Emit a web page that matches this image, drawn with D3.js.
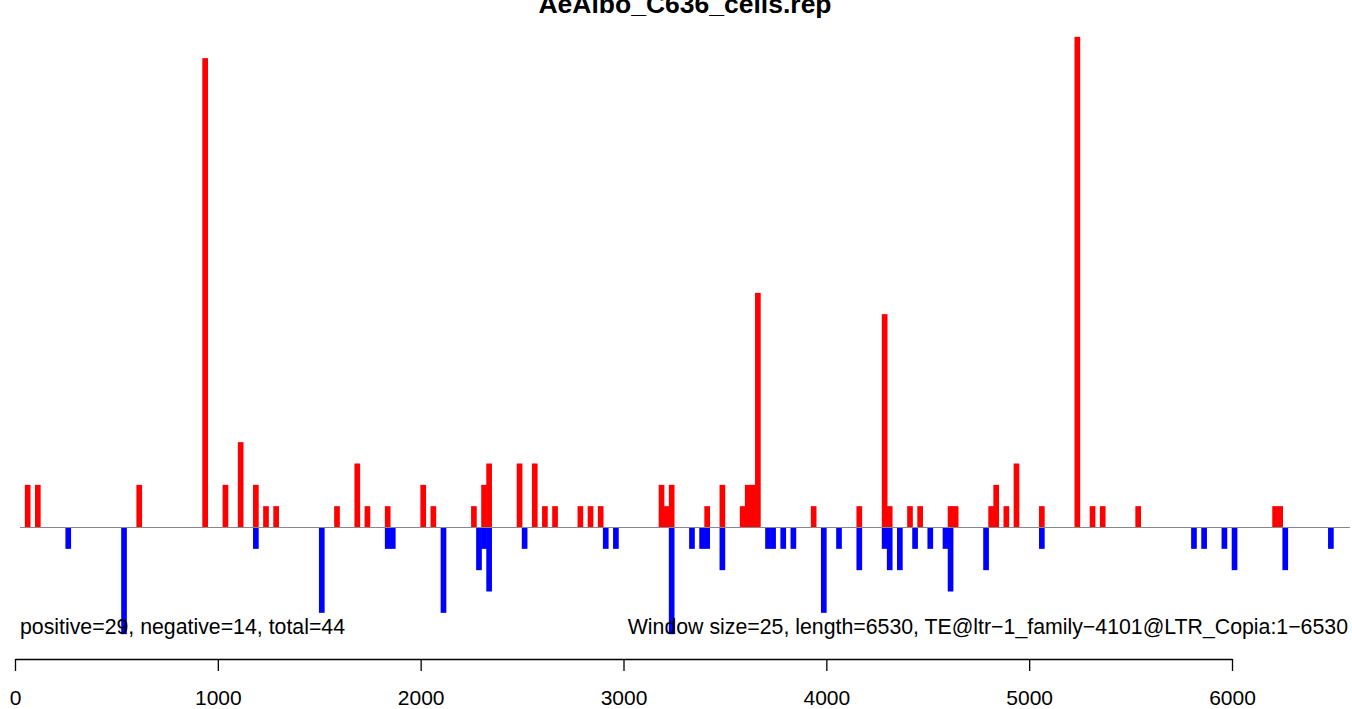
<!DOCTYPE html>
<html>
<head>
<meta charset="utf-8">
<script src="https://cdn.jsdelivr.net/npm/d3@7"></script>
<style>
  html, body { margin: 0; padding: 0; background: #fff; }
  svg { display: block; }
  text { font-family: "Liberation Sans", Arial, Helvetica, sans-serif; fill: #000; }
</style>
</head>
<body>
<svg id="chart" width="1352" height="709"></svg>
<script>
const chartTitle = "AeAlbo_C636_cells.rep";
const windowSize = 25;
const seqLength = 6530;
const xTicks = [0, 1000, 2000, 3000, 4000, 5000, 6000];
const summaryLeft = "positive=29, negative=14, total=44";
const summaryRight = "Window size=25, length=6530, TE@ltr\u22121_family\u22124101@LTR_Copia:1\u22126530";

// positive-strand windows (start position) and counts
const posStarts = [50, 100, 600, 925, 1025, 1100, 1175, 1225, 1275, 1575, 1675, 1725, 1825, 2000, 2050,
  2250, 2300, 2325, 2475, 2550, 2600, 2650, 2775, 2825, 2875, 3175, 3200, 3225, 3400, 3475,
  3575, 3600, 3625, 3650, 3925, 4150, 4275, 4300, 4400, 4450, 4600, 4625, 4800, 4825, 4875,
  4925, 5050, 5225, 5300, 5350, 5525, 6200, 6225];
const posValues = [2, 2, 2, 22, 2, 4, 2, 1, 1, 1, 3, 1, 1, 2, 1,
  1, 2, 3, 3, 3, 1, 1, 1, 1, 1, 2, 1, 2, 1, 2,
  1, 2, 2, 11, 1, 1, 10, 1, 1, 1, 1, 1, 1, 2, 1,
  3, 1, 23, 1, 1, 1, 1, 1];

// negative-strand windows (start position) and counts
const negStarts = [250, 525, 1175, 1500, 1825, 1850, 2100, 2275, 2300, 2325, 2500, 2900, 2950, 3225,
  3325, 3375, 3400, 3475, 3700, 3725, 3775, 3825, 3975, 4050, 4150, 4275, 4300, 4350,
  4425, 4500, 4575, 4600, 4775, 5050, 5800, 5850, 5950, 6000, 6250, 6475];
const negValues = [1, 5, 1, 4, 1, 1, 4, 2, 1, 3, 1, 1, 1, 5,
  1, 1, 1, 2, 1, 1, 1, 1, 4, 1, 2, 1, 2, 2,
  1, 1, 1, 3, 2, 1, 1, 1, 1, 2, 2, 1];

const svg = d3.select("#chart");

const x = d3.scaleLinear().domain([0, 6000]).range([15, 1232]);
const y = d3.scaleLinear().domain([0, 23]).range([527.5, 36.8]);

const pos = posStarts.map((s, i) => ({ s, v: posValues[i] }));
const neg = negStarts.map((s, i) => ({ s, v: negValues[i] }));

const bw = d => x(d.s + windowSize) - x(d.s) + 0.6;

svg.append("g").selectAll("rect").data(pos).join("rect")
  .attr("x", d => x(d.s) - 0.3)
  .attr("width", bw)
  .attr("y", d => y(d.v))
  .attr("height", d => y(0) - y(d.v))
  .attr("fill", "#ff0000");

svg.append("g").selectAll("rect").data(neg).join("rect")
  .attr("x", d => x(d.s) - 0.3)
  .attr("width", bw)
  .attr("y", y(0))
  .attr("height", d => y(-d.v) - y(0))
  .attr("fill", "#0000ff");

// zero line
svg.append("line")
  .attr("x1", 20).attr("x2", 1350)
  .attr("y1", y(0)).attr("y2", y(0))
  .attr("stroke", "#888").attr("stroke-width", 1.2);

// title
svg.append("text")
  .attr("x", 685).attr("y", 12.5)
  .attr("text-anchor", "middle")
  .style("font-size", "26.5px").style("font-weight", "bold")
  .text(chartTitle);

// summary texts
svg.append("text")
  .attr("x", 20).attr("y", 634)
  .style("font-size", "21.3px")
  .text(summaryLeft);
svg.append("text")
  .attr("x", 1348).attr("y", 634)
  .attr("text-anchor", "end")
  .style("font-size", "21.3px")
  .text(summaryRight);

// x axis
const axis = d3.axisBottom(x).tickValues(xTicks).tickFormat(d3.format("d"))
  .tickSize(12).tickSizeOuter(0);
const gx = svg.append("g").attr("transform", "translate(0,659)").call(axis);
gx.select(".domain").attr("stroke", "#000").attr("stroke-width", 1.3);
gx.selectAll(".tick line").attr("stroke", "#000").attr("stroke-width", 1.3);
gx.selectAll(".tick text")
  .attr("dy", null).attr("y", 46)
  .style("font-size", "21px")
  .style("font-family", "'Liberation Sans', Arial, Helvetica, sans-serif")
  .attr("fill", "#000");
</script>
</body>
</html>
